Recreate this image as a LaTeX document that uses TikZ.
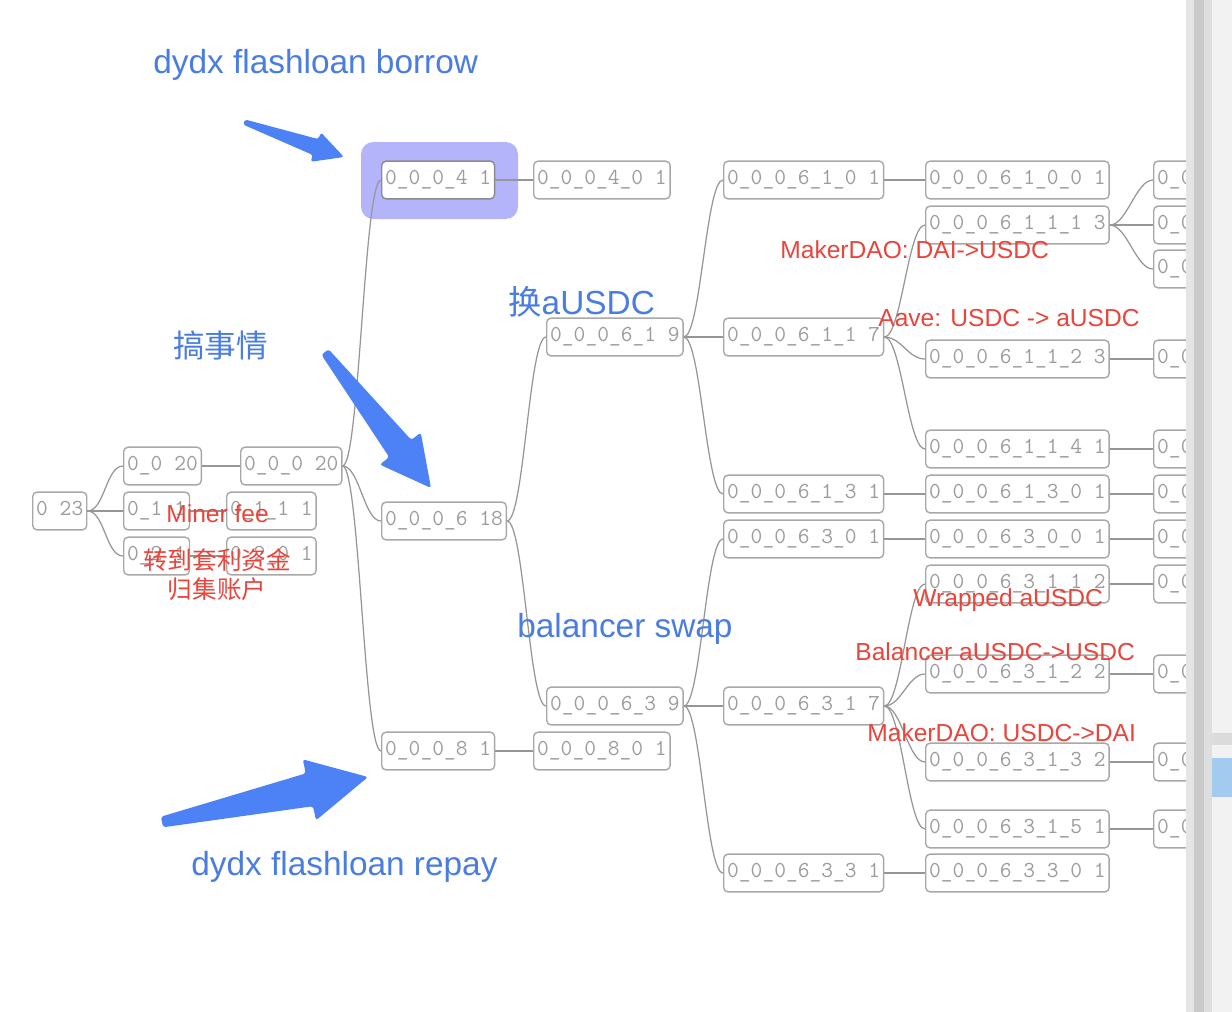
\documentclass[tikz,border=0pt]{standalone}
\usepackage{fontspec}
\setsansfont{Liberation Sans}
\newfontfamily\cjk{Noto Sans CJK SC}
\usetikzlibrary{calc}
\definecolor{boxgray}{HTML}{A8A8A8}
\definecolor{digitgray}{HTML}{9C9C9C}
\definecolor{linegray}{HTML}{969696}
\definecolor{noteblue}{HTML}{4A7DE0}
\definecolor{tagred}{HTML}{E8453C}
\definecolor{arrowblue}{HTML}{4C82F6}
\definecolor{hilite}{HTML}{B4B4FA}
\definecolor{thumb}{HTML}{A3CBF0}
\newcommand\blobarrow[3]{%
  \coordinate (pb) at ($(#2)!#3!(#1)$);
  \fill[pointer] ($(#1)!{0.09*#3}!90:(#2)$) -- ($(pb)!{0.28*#3}!90:(#2)$)
    -- ($(pb)!{0.52*#3}!90:(#2)$) -- (#2) -- ($(pb)!{0.52*#3}!-90:(#2)$)
    -- ($(pb)!{0.28*#3}!-90:(#2)$) -- ($(#1)!{0.09*#3}!-90:(#2)$) -- cycle;}

\begin{document}
\begin{tikzpicture}
[x=0.02cm,y=-0.02cm]
\tikzset{box/.style={draw=boxgray,fill=white,rounded corners=2.5pt,line width=0.8pt,anchor=west,minimum height=21.5pt,inner xsep=2pt,text height=8pt,text depth=2.8pt,text=digitgray,font=\fontsize{13}{13}\selectfont\ttfamily}}
\tikzset{link/.style={draw=linegray,line width=0.7pt}}
\tikzset{note/.style={text=noteblue,font=\fontsize{19}{22}\selectfont\sffamily,anchor=west,inner sep=0pt}}
\tikzset{tag/.style={text=tagred,font=\fontsize{14}{16}\selectfont\sffamily,anchor=west,inner sep=0pt}}
\tikzset{pointer/.style={fill=arrowblue,rounded corners=1.5pt}}
\useasboundingbox (0,0) rectangle (1232,1012);
\fill[white] (0,0) rectangle (1232,1012);
\fill[hilite,rounded corners=7pt] (361,142) rectangle (518,219);
\node [box] (n0) at (32,511) {0 23};
\node [box] (a1) at (123,466) {0\_0 20};
\node [box] (a2) at (240,466) {0\_0\_0 20};
\node [box] (b1) at (123,511) {0\_1 1};
\node [box] (b2) at (226,511) {0\_1\_1 1};
\node [box] (c1) at (123,556) {0\_2 1};
\node [box] (c2) at (226,556) {0\_2\_0 1};
\node [box,draw=black!45] (d4) at (381,180) {0\_0\_0\_4 1};
\node [box] (d40) at (533,180) {0\_0\_0\_4\_0 1};
\node [box] (d6) at (381,521) {0\_0\_0\_6 18};
\node [box] (d8) at (381,751) {0\_0\_0\_8 1};
\node [box] (d80) at (533,751) {0\_0\_0\_8\_0 1};
\node [box] (e1) at (546,337) {0\_0\_0\_6\_1 9};
\node [box] (e3) at (546,706) {0\_0\_0\_6\_3 9};
\node [box] (f10) at (723,180) {0\_0\_0\_6\_1\_0 1};
\node [box] (f11) at (723,337) {0\_0\_0\_6\_1\_1 7};
\node [box] (f13) at (723,494) {0\_0\_0\_6\_1\_3 1};
\node [box] (f30) at (723,539) {0\_0\_0\_6\_3\_0 1};
\node [box] (f31) at (723,706) {0\_0\_0\_6\_3\_1 7};
\node [box] (f33) at (723,873) {0\_0\_0\_6\_3\_3 1};
\node [box] (g100) at (925,180) {0\_0\_0\_6\_1\_0\_0 1};
\node [box] (g111) at (925,225) {0\_0\_0\_6\_1\_1\_1 3};
\node [box] (g112) at (925,359) {0\_0\_0\_6\_1\_1\_2 3};
\node [box] (g114) at (925,449) {0\_0\_0\_6\_1\_1\_4 1};
\node [box] (g130) at (925,494) {0\_0\_0\_6\_1\_3\_0 1};
\node [box] (g300) at (925,539) {0\_0\_0\_6\_3\_0\_0 1};
\node [box] (g311) at (925,584) {0\_0\_0\_6\_3\_1\_1 2};
\node [box] (g312) at (925,674) {0\_0\_0\_6\_3\_1\_2 2};
\node [box] (g313) at (925,762) {0\_0\_0\_6\_3\_1\_3 2};
\node [box] (g315) at (925,829) {0\_0\_0\_6\_3\_1\_5 1};
\node [box] (g330) at (925,873) {0\_0\_0\_6\_3\_3\_0 1};
% last column, cut off by the scroll bar
\begin{scope}
\clip (0,0) rectangle (1186,1012);
\node [box] (h1) at (1153,180) {0\_0\_0\_6\_1\_1\_1\_0 1};
\node [box] (h2) at (1153,225) {0\_0\_0\_6\_1\_1\_1\_1 1};
\node [box] (h3) at (1153,269) {0\_0\_0\_6\_1\_1\_1\_2 1};
\node [box] (h4) at (1153,359) {0\_0\_0\_6\_1\_1\_2\_0 1};
\node [box] (h5) at (1153,449) {0\_0\_0\_6\_1\_1\_4\_0 1};
\node [box] (h6) at (1153,494) {0\_0\_0\_6\_1\_3\_0\_0 1};
\node [box] (h7) at (1153,539) {0\_0\_0\_6\_3\_0\_0\_0 1};
\node [box] (h8) at (1153,584) {0\_0\_0\_6\_3\_1\_1\_0 1};
\node [box] (h9) at (1153,674) {0\_0\_0\_6\_3\_1\_2\_0 1};
\node [box] (h10) at (1153,762) {0\_0\_0\_6\_3\_1\_3\_0 1};
\node [box] (h11) at (1153,829) {0\_0\_0\_6\_3\_1\_5\_0 1};
\end{scope}

\foreach \from/\to in {n0/a1,n0/b1,n0/c1,a1/a2,b1/b2,c1/c2,a2/d4,a2/d6,a2/d8,d4/d40,d8/d80,d6/e1,d6/e3,e1/f10,e1/f11,e1/f13,e3/f30,e3/f31,e3/f33,f10/g100,f11/g111,f11/g112,f11/g114,f13/g130,f30/g300,f31/g311,f31/g312,f31/g313,f31/g315,f33/g330,g111/h1,g111/h2,g111/h3,g112/h4,g114/h5,g130/h6,g300/h7,g311/h8,g312/h9,g313/h10,g315/h11}
	\draw[link] (\from.east) .. controls +(17,0) and +(-17,0) .. (\to.west);

% scroll bar
\fill[black!10] (1186,0) rectangle (1194,1012);
\fill[black!21] (1194,0) rectangle (1204,1012);
\fill[black!13] (1204,0) rectangle (1212,1012);
\fill[black!5] (1212,0) rectangle (1232,1012);
\fill[black!14] (1212,733) rectangle (1232,745);
\fill[thumb] (1212,758) rectangle (1232,797);

\coordinate (t1) at (244,122);
\coordinate (p1) at (344,157);
\coordinate (t2) at (325,352);
\coordinate (p2) at (431,488);
\coordinate (t3) at (162,822);
\coordinate (p3) at (368,777);
\blobarrow{t1}{p1}{0.6cm}
\blobarrow{t2}{p2}{1cm}
\blobarrow{t3}{p3}{1.2cm}

\node [note] (borrow) at (153,65) {dydx flashloan borrow};
\node [note,font=\fontsize{18}{22}\selectfont\cjk] (gaoshi) at (173,345) {搞事情};
\node [note] (swap1) at (508,302) {{\cjk 换}aUSDC};
\node [note] (swap2) at (517,629) {balancer swap};
\node [note] (repay) at (191,867) {dydx flashloan repay};
\node [tag] (fee) at (166,514) {Miner fee};
\node [tag,font=\fontsize{14}{16.5}\selectfont\cjk,align=center,anchor=center] (collect) at (217,575) {转到套利资金\\归集账户};
\node [tag] (mk1) at (780,250) {MakerDAO: DAI->USDC};
\node [tag] (aave) at (878,318) {Aave: USDC -> aUSDC};
\node [tag] (wrap) at (913,600) {Wrapped aUSDC};
\node [tag] (bal) at (855,652) {Balancer aUSDC->USDC};
\node [tag] (mk2) at (867,733) {MakerDAO: USDC->DAI};
\end{tikzpicture}
\end{document}
